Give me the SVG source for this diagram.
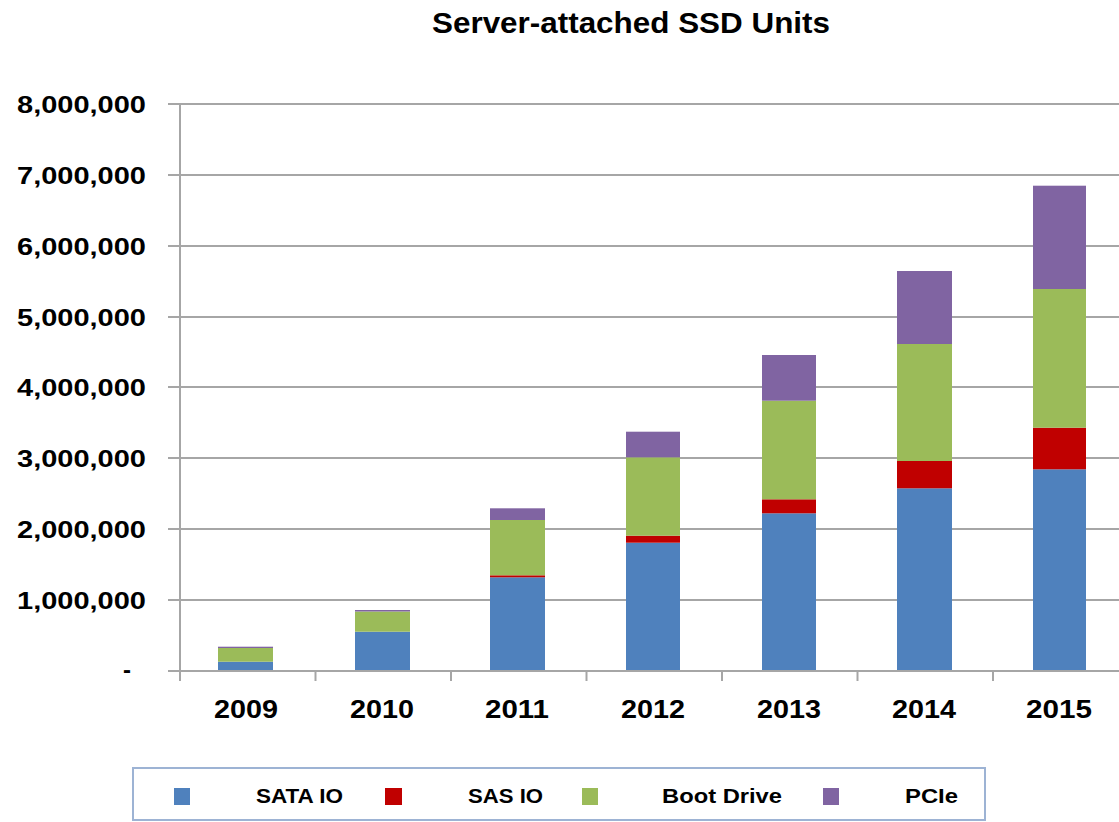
<svg xmlns="http://www.w3.org/2000/svg" width="1119" height="822" viewBox="0 0 1119 822">
<style>
.t{font-family:"Liberation Sans",Arial,sans-serif;font-weight:bold;fill:#000}
.grid{stroke:#a6a6a6;stroke-width:2}
.ax{stroke:#a6a6a6;stroke-width:2}
.sata{fill:#4f81bd}.sas{fill:#c00000}.boot{fill:#9bbb59}.pcie{fill:#8064a2}
</style>
<rect width="1119" height="822" fill="#fff"/>
<text class="t" x="432" y="33" font-size="29" textLength="398" lengthAdjust="spacingAndGlyphs">Server-attached  SSD Units</text>
<g id="gridlines">
<line class="grid" x1="168" y1="104" x2="1119" y2="104"/>
<line class="grid" x1="168" y1="175" x2="1119" y2="175"/>
<line class="grid" x1="168" y1="246" x2="1119" y2="246"/>
<line class="grid" x1="168" y1="317" x2="1119" y2="317"/>
<line class="grid" x1="168" y1="387" x2="1119" y2="387"/>
<line class="grid" x1="168" y1="458" x2="1119" y2="458"/>
<line class="grid" x1="168" y1="529" x2="1119" y2="529"/>
<line class="grid" x1="168" y1="600" x2="1119" y2="600"/>
</g>
<g id="y-labels" class="t" font-size="24" text-anchor="end">
<text x="146" y="113" textLength="129" lengthAdjust="spacingAndGlyphs">8,000,000</text>
<text x="146" y="184" textLength="129" lengthAdjust="spacingAndGlyphs">7,000,000</text>
<text x="146" y="255" textLength="129" lengthAdjust="spacingAndGlyphs">6,000,000</text>
<text x="146" y="326" textLength="129" lengthAdjust="spacingAndGlyphs">5,000,000</text>
<text x="146" y="396" textLength="129" lengthAdjust="spacingAndGlyphs">4,000,000</text>
<text x="146" y="467" textLength="129" lengthAdjust="spacingAndGlyphs">3,000,000</text>
<text x="146" y="538" textLength="129" lengthAdjust="spacingAndGlyphs">2,000,000</text>
<text x="146" y="609" textLength="129" lengthAdjust="spacingAndGlyphs">1,000,000</text>
<text x="131" y="678">-</text>
</g>
<g id="bars">
<g id="bar-2009">
<rect class="sata" x="218" y="661.7" width="55" height="9.3"/>
<rect class="boot" x="218" y="648" width="55" height="13.7"/>
<rect class="pcie" x="218" y="646.7" width="55" height="1.3"/>
</g>
<g id="bar-2010">
<rect class="sata" x="355" y="631.7" width="55" height="39.3"/>
<rect class="boot" x="355" y="611.5" width="55" height="20.2"/>
<rect class="pcie" x="355" y="610" width="55" height="1.5"/>
</g>
<g id="bar-2011">
<rect class="sata" x="490" y="577.3" width="55" height="93.7"/>
<rect class="sas" x="490" y="575.3" width="55" height="2"/>
<rect class="boot" x="490" y="520" width="55" height="55.3"/>
<rect class="pcie" x="490" y="508.3" width="55" height="11.7"/>
</g>
<g id="bar-2012">
<rect class="sata" x="626" y="542.7" width="54" height="128.3"/>
<rect class="sas" x="626" y="535.7" width="54" height="7"/>
<rect class="boot" x="626" y="457.3" width="54" height="78.4"/>
<rect class="pcie" x="626" y="431.7" width="54" height="25.6"/>
</g>
<g id="bar-2013">
<rect class="sata" x="762" y="513.3" width="54" height="157.7"/>
<rect class="sas" x="762" y="499.3" width="54" height="14"/>
<rect class="boot" x="762" y="400.7" width="54" height="98.6"/>
<rect class="pcie" x="762" y="355" width="54" height="45.7"/>
</g>
<g id="bar-2014">
<rect class="sata" x="897" y="488.3" width="55" height="182.7"/>
<rect class="sas" x="897" y="461" width="55" height="27.3"/>
<rect class="boot" x="897" y="344" width="55" height="117"/>
<rect class="pcie" x="897" y="271" width="55" height="73"/>
</g>
<g id="bar-2015">
<rect class="sata" x="1033" y="469.3" width="53" height="201.7"/>
<rect class="sas" x="1033" y="427.7" width="53" height="41.6"/>
<rect class="boot" x="1033" y="289" width="53" height="138.7"/>
<rect class="pcie" x="1033" y="185.7" width="53" height="103.3"/>
</g>
</g>
<g id="axes">
<line class="ax" x1="180" y1="104" x2="180" y2="681"/>
<line class="ax" x1="168" y1="671" x2="1119" y2="671"/>
<line class="ax" x1="315.5" y1="671" x2="315.5" y2="681"/>
<line class="ax" x1="451" y1="671" x2="451" y2="681"/>
<line class="ax" x1="586.5" y1="671" x2="586.5" y2="681"/>
<line class="ax" x1="722" y1="671" x2="722" y2="681"/>
<line class="ax" x1="857.5" y1="671" x2="857.5" y2="681"/>
<line class="ax" x1="993" y1="671" x2="993" y2="681"/>
</g>
<g id="x-labels" class="t" font-size="26" text-anchor="middle">
<text x="246" y="718" textLength="64" lengthAdjust="spacingAndGlyphs">2009</text>
<text x="382" y="718" textLength="64" lengthAdjust="spacingAndGlyphs">2010</text>
<text x="517" y="718" textLength="64" lengthAdjust="spacingAndGlyphs">2011</text>
<text x="653" y="718" textLength="64" lengthAdjust="spacingAndGlyphs">2012</text>
<text x="789" y="718" textLength="64" lengthAdjust="spacingAndGlyphs">2013</text>
<text x="924" y="718" textLength="64" lengthAdjust="spacingAndGlyphs">2014</text>
<text x="1059" y="718" textLength="66" lengthAdjust="spacingAndGlyphs">2015</text>
</g>
<g id="legend">
<rect x="133" y="768" width="852" height="52" fill="#fff" stroke="#9db3d4" stroke-width="2"/>
<rect class="sata" x="174" y="788" width="16" height="17"/>
<text class="t" x="256" y="803" font-size="21" textLength="87" lengthAdjust="spacingAndGlyphs">SATA IO</text>
<rect class="sas" x="385" y="788" width="17" height="17"/>
<text class="t" x="468" y="803" font-size="21" textLength="75" lengthAdjust="spacingAndGlyphs">SAS IO</text>
<rect class="boot" x="582" y="788" width="16" height="17"/>
<text class="t" x="662" y="803" font-size="21" textLength="120" lengthAdjust="spacingAndGlyphs">Boot Drive</text>
<rect class="pcie" x="823" y="788" width="16" height="17"/>
<text class="t" x="905" y="803" font-size="21" textLength="53" lengthAdjust="spacingAndGlyphs">PCIe</text>
</g>
</svg>
